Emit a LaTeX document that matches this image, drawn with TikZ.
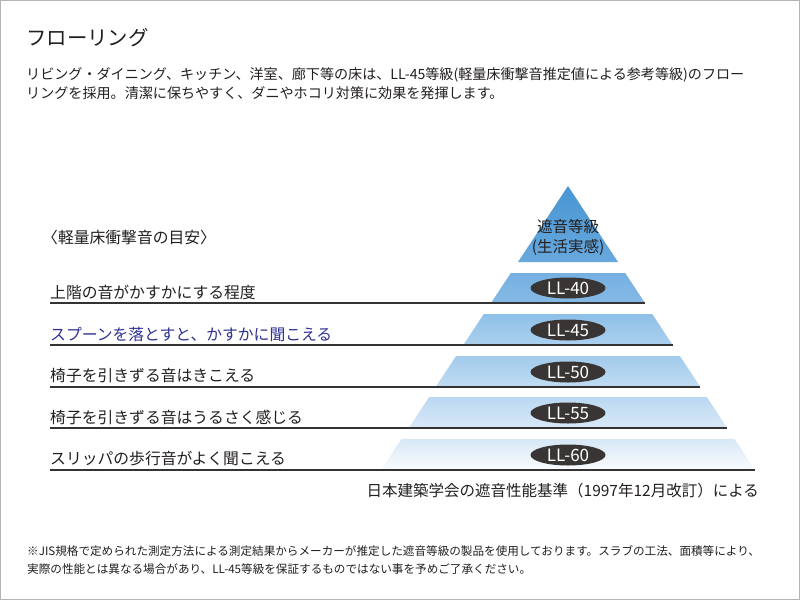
\documentclass[tikz,border=0pt]{standalone}
\usepackage{fontspec}
\setmainfont{Noto Sans CJK JP}
\definecolor{txt}{HTML}{231F20}
\definecolor{bluetxt}{HTML}{2E3192}
\definecolor{rulecol}{HTML}{333333}
\definecolor{ovalfill}{HTML}{3A3535}
\definecolor{framecol}{HTML}{B4B4B4}
\definecolor{c0a}{RGB}{72,150,210}
\definecolor{c0b}{RGB}{104,168,222}
\definecolor{c1a}{RGB}{118,176,225}
\definecolor{c1b}{RGB}{132,185,229}
\definecolor{c2a}{RGB}{142,192,232}
\definecolor{c2b}{RGB}{172,208,238}
\definecolor{c3a}{RGB}{162,203,236}
\definecolor{c3b}{RGB}{192,220,242}
\definecolor{c4a}{RGB}{186,216,241}
\definecolor{c4b}{RGB}{216,233,247}
\definecolor{c5a}{RGB}{214,231,246}
\definecolor{c5b}{RGB}{250,252,254}
\usetikzlibrary{shapes.geometric}
\tikzset{
  lbl/.style={anchor=west, inner sep=0pt, text=txt, font=\fontsize{15.8}{18}\selectfont},
  levelrule/.style={draw=rulecol, line width=1.6pt},
  oval/.style={ellipse, fill=ovalfill, minimum width=75pt, minimum height=21pt, inner sep=0pt, text=white, font=\fontsize{17}{18}\selectfont},
  layer/.style={draw=none}
}
\begin{document}
\begin{tikzpicture}[x=1pt,y=-1pt]
\useasboundingbox (0,0) rectangle (800,600);
\fill[white] (0,0) rectangle (800,600);
\draw[framecol, line width=1pt] (0.5,0.5) rectangle (799.5,599.5);

% title and intro
\node[anchor=west, inner sep=0pt, text=txt, font=\fontsize{20.4}{24}\selectfont] (title) at (26,38) {フローリング};
\node[anchor=west, inner sep=0pt, text=txt, font=\fontsize{14.08}{18}\selectfont] (intro1) at (26,75) {リビング・ダイニング、キッチン、洋室、廊下等の床は、LL-45等級(軽量床衝撃音推定値による参考等級)のフロー};
\node[anchor=west, inner sep=0pt, text=txt, font=\fontsize{14.08}{18}\selectfont] (intro2) at (26,93) {リングを採用。清潔に保ちやすく、ダニやホコリ対策に効果を発揮します。};

% pyramid
\shade[layer, top color=c0a, bottom color=c0b] (568,186) -- (618,262) -- (518,262) -- cycle;
\shade[layer, top color=c1a, bottom color=c1b] (510.8,273) -- (625.2,273) -- (645,303) -- (491,303) -- cycle;
\shade[layer, top color=c2a, bottom color=c2b] (483.8,314) -- (652.2,314) -- (672.6,345) -- (463.4,345) -- cycle;
\shade[layer, top color=c3a, bottom color=c3b] (456.1,356) -- (679.9,356) -- (700.3,387) -- (435.7,387) -- cycle;
\shade[layer, top color=c4a, bottom color=c4b] (429.2,397) -- (706.8,397) -- (727.2,428) -- (408.8,428) -- cycle;
\shade[layer, top color=c5a, bottom color=c5b] (401.5,439) -- (734.5,439) -- (754.9,470) -- (381.1,470) -- cycle;

\node[inner sep=0pt, text=txt, font=\fontsize{15.5}{18}\selectfont] (grade1) at (568,227) {遮音等級};
\node[inner sep=0pt, text=txt, font=\fontsize{15.5}{18}\selectfont] (grade2) at (568,247) {(生活実感)};

\node[oval] (ll40) at (568,288) {LL-40};
\node[oval] (ll45) at (568,330) {LL-45};
\node[oval] (ll50) at (568,372) {LL-50};
\node[oval] (ll55) at (568,413) {LL-55};
\node[oval] (ll60) at (568,455) {LL-60};

% left labels
\node[lbl] (head) at (42,237) {〈軽量床衝撃音の目安〉};
\node[lbl] (t40) at (50,292) {上階の音がかすかにする程度};
\node[lbl, text=bluetxt] (t45) at (50,334) {スプーンを落とすと、かすかに聞こえる};
\node[lbl] (t50) at (50,376) {椅子を引きずる音はきこえる};
\node[lbl] (t55) at (50,417) {椅子を引きずる音はうるさく感じる};
\node[lbl] (t60) at (50,459) {スリッパの歩行音がよく聞こえる};

% rules
\coordinate (r1s) at (50,303); \coordinate (r1e) at (645,303);
\coordinate (r2s) at (50,345); \coordinate (r2e) at (672.6,345);
\coordinate (r3s) at (50,387); \coordinate (r3e) at (700.3,387);
\coordinate (r4s) at (50,428); \coordinate (r4e) at (727.2,428);
\coordinate (r5s) at (50,470); \coordinate (r5e) at (754.9,470);
\draw[levelrule] (r1s) -- (r1e);
\draw[levelrule] (r2s) -- (r2e);
\draw[levelrule] (r3s) -- (r3e);
\draw[levelrule] (r4s) -- (r4e);
\draw[levelrule] (r5s) -- (r5e);

\node[anchor=east, inner sep=0pt, text=txt, font=\fontsize{15.5}{18}\selectfont] (source) at (759,491) {日本建築学会の遮音性能基準（1997年12月改訂）による};

% footnote
\node[anchor=west, inner sep=0pt, text=txt, font=\fontsize{11.6}{14}\selectfont] (note1) at (27,551) {※JIS規格で定められた測定方法による測定結果からメーカーが推定した遮音等級の製品を使用しております。スラブの工法、面積等により、};
\node[anchor=west, inner sep=0pt, text=txt, font=\fontsize{11.6}{14}\selectfont] (note2) at (27,569) {実際の性能とは異なる場合があり、LL-45等級を保証するものではない事を予めご了承ください。};
\end{tikzpicture}
\end{document}
